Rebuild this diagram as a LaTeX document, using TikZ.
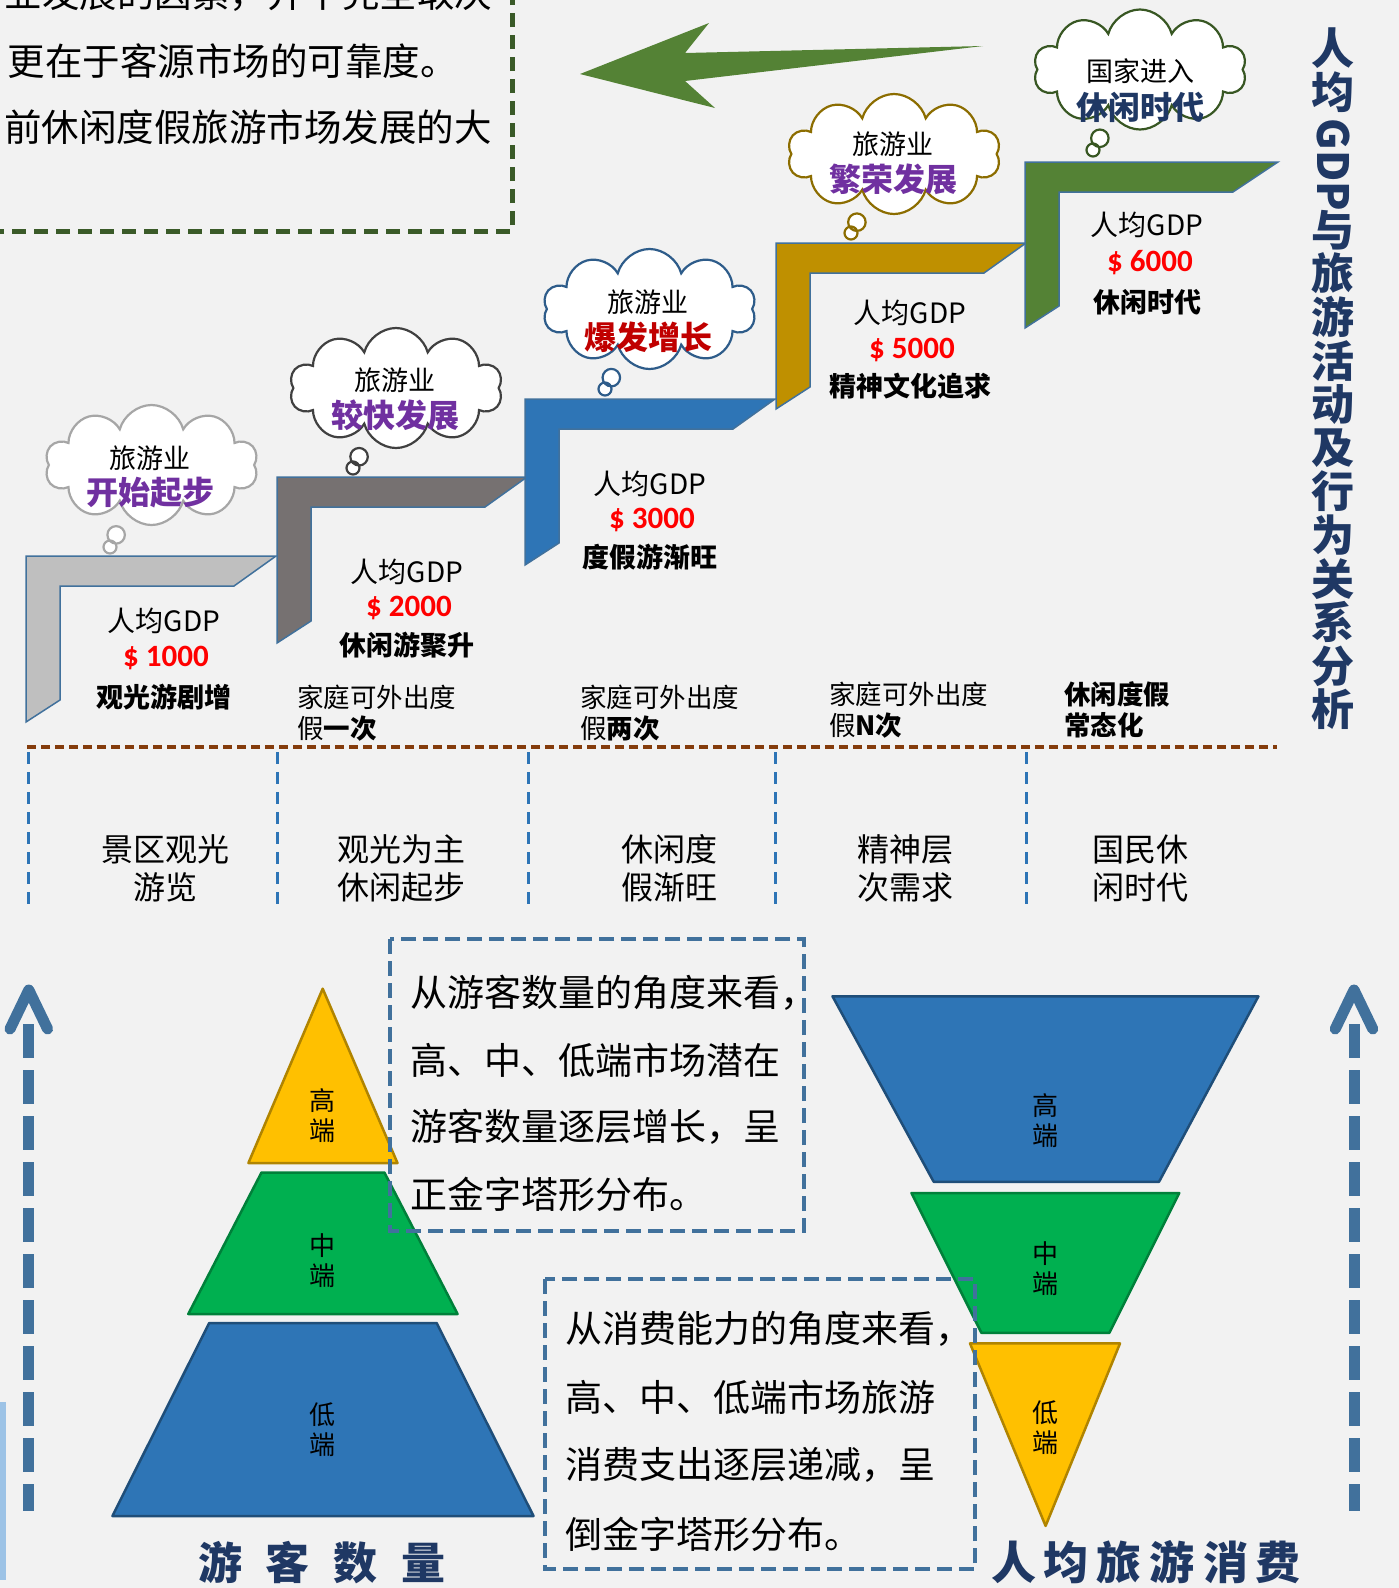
\documentclass[tikz,border=0pt]{standalone}
\usepackage{fontspec}
\setmainfont{Noto Sans CJK SC}
\newfontfamily\latinfont{Carlito}
\usetikzlibrary{shapes.callouts,shapes.symbols}
\definecolor{bgc}{HTML}{F2F2F2}
\definecolor{stepA}{HTML}{BFBFBF}
\definecolor{stepB}{HTML}{767171}
\definecolor{stepC}{HTML}{2E75B6}
\definecolor{stepD}{HTML}{BF9000}
\definecolor{stepE}{HTML}{548235}
\definecolor{stepline}{HTML}{41719C}
\definecolor{cloudA}{HTML}{A6A6A6}
\definecolor{cloudB}{HTML}{404040}
\definecolor{cloudC}{HTML}{2E5C8A}
\definecolor{cloudD}{HTML}{8C6D00}
\definecolor{cloudE}{HTML}{385723}
\definecolor{purp}{HTML}{7030A0}
\definecolor{darkred}{HTML}{C00000}
\definecolor{navyt}{HTML}{1F3864}
\definecolor{arrowgreen}{HTML}{548235}
\definecolor{boxgreen}{HTML}{3A5A28}
\definecolor{brownline}{HTML}{843C0C}
\definecolor{colline}{HTML}{2E75B6}
\definecolor{boxblue}{HTML}{41719C}
\definecolor{pgold}{HTML}{FFC000}
\definecolor{pgoldD}{HTML}{B08400}
\definecolor{pgreen}{HTML}{00B050}
\definecolor{pgreenD}{HTML}{00803A}
\definecolor{pblue}{HTML}{2E75B6}
\definecolor{pblueD}{HTML}{1F4E79}
\definecolor{lightbar}{HTML}{9DC3E6}
\tikzset{
 thought/.style={cloud callout, cloud puffs=10, cloud ignores aspect, fill=white, line width=2.2,
   minimum width=213pt, minimum height=120pt,
   callout pointer start size=25pt and 22pt, callout pointer end size=14pt and 13pt,
   callout pointer segments=2},
 smalltxt/.style={font=\fontsize{27}{30}\selectfont},
 bigtxt/.style={font=\bfseries\fontsize{32}{34}\selectfont},
 gdptxt/.style={font=\fontsize{28}{30}\selectfont},
 usdtxt/.style={font=\latinfont\bfseries\fontsize{31}{33}\selectfont, text=red},
 desctxt/.style={font=\bfseries\fontsize{27}{30}\selectfont},
 famtxt/.style={font=\fontsize{26.5}{31}\selectfont, align=left, anchor=west},
 coltxt/.style={font=\fontsize{32}{38}\selectfont, align=center},
 boxtxt/.style={font=\fontsize{37}{40}\selectfont, anchor=west},
 toptxt/.style={font=\fontsize{37.5}{40}\selectfont},
 plabel/.style={font=\fontsize{26}{30}\selectfont, align=center},
 titlechar/.style={font=\bfseries\fontsize{43}{45}\selectfont, text=navyt},
 bottitle/.style={font=\bfseries\fontsize{44}{46}\selectfont, text=navyt},
 stepshape/.style={draw=stepline, line width=1.5},
 upline/.style={draw=boxblue, line width=11, dash pattern=on 34pt off 12pt},
 upchev/.style={draw=boxblue, line width=11, line cap=round, line join=round},
 dbox/.style={draw=boxblue, line width=4, dash pattern=on 15pt off 7pt},
}
\begin{document}
\begin{tikzpicture}[x=1pt,y=-1pt,every node/.style={inner sep=0pt,outer sep=0pt}]
\fill[bgc] (0,0) rectangle (1399,1588);
\useasboundingbox (0,0) rectangle (1399,1588);
\begin{scope}
\clip (0,0) rectangle (1399,1588);

% ---- top-left note
\node[toptxt, anchor=west] (n1) at (5,-6) {业发展的因素，并不完全取决};
\node[toptxt, anchor=west] (n2) at (8,61) {更在于客源市场的可靠度。};
\node[toptxt, anchor=east] (n3) at (492,127) {当前休闲度假旅游市场发展的大};
\draw[boxgreen, line width=5, dash pattern=on 14pt off 8pt] (-10,231) -- (512,231) -- (512,-10);

% ---- green arrow
\fill[arrowgreen] (983,46) -- (685,53) -- (709,23) -- (580,74) -- (715,108) -- (685,81) -- cycle;

% ---- clouds
\node[thought, draw=cloudA, callout absolute pointer={(110,547)}] (c1) at (151.5,465) {};
\node[thought, draw=cloudB, callout absolute pointer={(353,468)}] (c2) at (396,388) {};
\node[thought, draw=cloudC, callout absolute pointer={(605,389)}] (c3) at (649.5,309) {};
\node[thought, draw=cloudD, callout absolute pointer={(851,233)}] (c4) at (894,154) {};
\node[thought, draw=cloudE, callout absolute pointer={(1093,150)}] (c5) at (1140,69.5) {};
\node[smalltxt] (c1a) at (150,458) {旅游业};
\node[bigtxt, text=purp] (c1b) at (150,493) {开始起步};
\node[smalltxt] (c2a) at (395,380) {旅游业};
\node[bigtxt, text=purp] (c2b) at (395,415) {较快发展};
\node[smalltxt] (c3a) at (648,302) {旅游业};
\node[bigtxt, text=darkred] (c3b) at (648,337) {爆发增长};
\node[smalltxt] (c4a) at (893,144) {旅游业};
\node[bigtxt, text=purp] (c4b) at (893,179) {繁荣发展};
\node[smalltxt] (c5a) at (1140,71) {国家进入};
\node[bigtxt, text=navyt] (c5b) at (1140,107) {休闲时代};

% ---- steps
\filldraw[stepshape, fill=stepA] (26,556) -- ++(250,0) -- ++(-42,30) -- ++(-174,0) -- ++(0,114) -- ++(-34,22) -- cycle;
\filldraw[stepshape, fill=stepB] (277,477) -- ++(250,0) -- ++(-42,30) -- ++(-174,0) -- ++(0,114) -- ++(-34,22) -- cycle;
\filldraw[stepshape, fill=stepC] (525,399) -- ++(250,0) -- ++(-42,30) -- ++(-174,0) -- ++(0,114) -- ++(-34,22) -- cycle;
\filldraw[stepshape, fill=stepD] (776,243) -- ++(250,0) -- ++(-42,30) -- ++(-174,0) -- ++(0,114) -- ++(-34,22) -- cycle;
\filldraw[stepshape, fill=stepE] (1025,162) -- ++(253,0) -- ++(-45,30) -- ++(-174,0) -- ++(0,114) -- ++(-34,22) -- cycle;

% ---- step texts
\node[gdptxt] (g1) at (164,621) {人均GDP};
\node[usdtxt] (u1) at (166,658) {\$ 1000};
\node[desctxt] (d1) at (164,697) {观光游剧增};
\node[gdptxt] (g2) at (407,572) {人均GDP};
\node[usdtxt] (u2) at (409,608) {\$ 2000};
\node[desctxt] (d2) at (407,645) {休闲游聚升};
\node[gdptxt] (g3) at (650,484) {人均GDP};
\node[usdtxt] (u3) at (652,520) {\$ 3000};
\node[desctxt] (d3) at (650,557) {度假游渐旺};
\node[gdptxt] (g4) at (910,313) {人均GDP};
\node[usdtxt] (u4) at (912,350) {\$ 5000};
\node[desctxt] (d4) at (910,386) {精神文化追求};
\node[gdptxt] (g5) at (1147,225) {人均GDP};
\node[usdtxt] (u5) at (1150,263) {\$ 6000};
\node[desctxt] (d5) at (1147,302) {休闲时代};

% ---- family labels
\node[famtxt] (f1) at (297,713) {家庭可外出度\\假\textbf{一次}};
\node[famtxt] (f2) at (580,713) {家庭可外出度\\假\textbf{两次}};
\node[famtxt] (f3) at (829,710) {家庭可外出度\\假\textbf{N次}};
\node[famtxt, font=\bfseries\fontsize{26.5}{31}\selectfont] (f4) at (1064,710) {休闲度假\\常态化};

% ---- separators
\draw[brownline, line width=4, dash pattern=on 9pt off 5pt] (27,747) -- (1277,747);
\foreach \x in {28,277,528,775,1026}
  \draw[colline, line width=3, dash pattern=on 12pt off 8pt] (\x,752) -- (\x,906);

% ---- column texts
\node[coltxt] (k1) at (165,868) {景区观光\\游览};
\node[coltxt] (k2) at (401,868) {观光为主\\休闲起步};
\node[coltxt] (k3) at (669,868) {休闲度\\假渐旺};
\node[coltxt] (k4) at (905,868) {精神层\\次需求};
\node[coltxt] (k5) at (1140,868) {国民休\\闲时代};

% ---- vertical title
\node[titlechar] (v1) at (1333,48) {人};
\node[titlechar] (v2) at (1333,92) {均};
\node[titlechar, rotate=-90] (v3) at (1333,165) {GDP};
\foreach \c [count=\i] in {与,旅,游,活,动,及,行,为,关,系,分,析}
  \node[titlechar] (w\i) at (1333,{230+43.6*(\i-1)}) {\c};

% ---- pyramid
\filldraw[fill=pgold, draw=pgoldD, line width=2.5, line join=round] (322.7,988.7) -- (397.5,1163) -- (248.4,1163) -- cycle;
\filldraw[fill=pgreen, draw=pgreenD, line width=2.5, line join=round] (261.5,1172.5) -- (384.4,1172.5) -- (457.6,1314) -- (188.3,1314) -- cycle;
\filldraw[fill=pblue, draw=pblueD, line width=2.5, line join=round] (209.2,1323) -- (436.7,1323) -- (533.5,1516) -- (112.4,1516) -- cycle;
\node[plabel] (p1) at (322.7,1116) {高\\端};
\node[plabel] (p2) at (322.7,1261) {中\\端};
\node[plabel] (p3) at (322.7,1430) {低\\端};

% ---- inverted pyramid
\filldraw[fill=pblue, draw=pblueD, line width=2.5, line join=round] (832.5,996.3) -- (1258.4,996.3) -- (1159,1181.8) -- (933.7,1181.8) -- cycle;
\filldraw[fill=pgreen, draw=pgreenD, line width=2.5, line join=round] (911.5,1193) -- (1179.3,1193) -- (1109.4,1332.8) -- (981.4,1332.8) -- cycle;
\filldraw[fill=pgold, draw=pgoldD, line width=2.5, line join=round] (970,1343.4) -- (1120,1343.4) -- (1045.6,1525.9) -- cycle;
\node[plabel] (q1) at (1045.6,1121) {高\\端};
\node[plabel] (q2) at (1045.6,1269) {中\\端};
\node[plabel] (q3) at (1045.6,1428) {低\\端};

% ---- text boxes
\draw[dbox] (390,939) rectangle (804,1231);
\node[boxtxt] (b1) at (410,993) {从游客数量的角度来看，};
\node[boxtxt] (b2) at (410,1060) {高、中、低端市场潜在};
\node[boxtxt] (b3) at (410,1127) {游客数量逐层增长，呈};
\node[boxtxt] (b4) at (410,1194) {正金字塔形分布。};
\draw[dbox] (545,1279) rectangle (975,1569);
\node[boxtxt] (e1) at (565,1329) {从消费能力的角度来看，};
\node[boxtxt] (e2) at (565,1397) {高、中、低端市场旅游};
\node[boxtxt] (e3) at (565,1465) {消费支出逐层递减，呈};
\node[boxtxt] (e4) at (565,1534) {倒金字塔形分布。};

% ---- up arrows
\coordinate (la1) at (28.8,1024);
\coordinate (la2) at (28.8,1511);
\draw[upline] (la1) -- (la2);
\draw[upchev] (10,1029) -- (28.8,990) -- (47.6,1029);
\coordinate (ra1) at (1354,1024);
\coordinate (ra2) at (1354,1511);
\draw[upline] (ra1) -- (ra2);
\draw[upchev] (1335.2,1029) -- (1354,990) -- (1372.8,1029);

% ---- bottom titles
\node[bottitle] (t1) at (322,1563) {游\hspace{24pt}客\hspace{24pt}数\hspace{24pt}量};
\node[bottitle, font=\bfseries\fontsize{45}{47}\selectfont] (t2) at (1146,1562) {人\hspace{8pt}均\hspace{8pt}旅\hspace{8pt}游\hspace{8pt}消\hspace{8pt}费};

% ---- light bar at left edge
\fill[lightbar] (0,1402) rectangle (6,1580);
\end{scope}
\end{tikzpicture}
\end{document}
